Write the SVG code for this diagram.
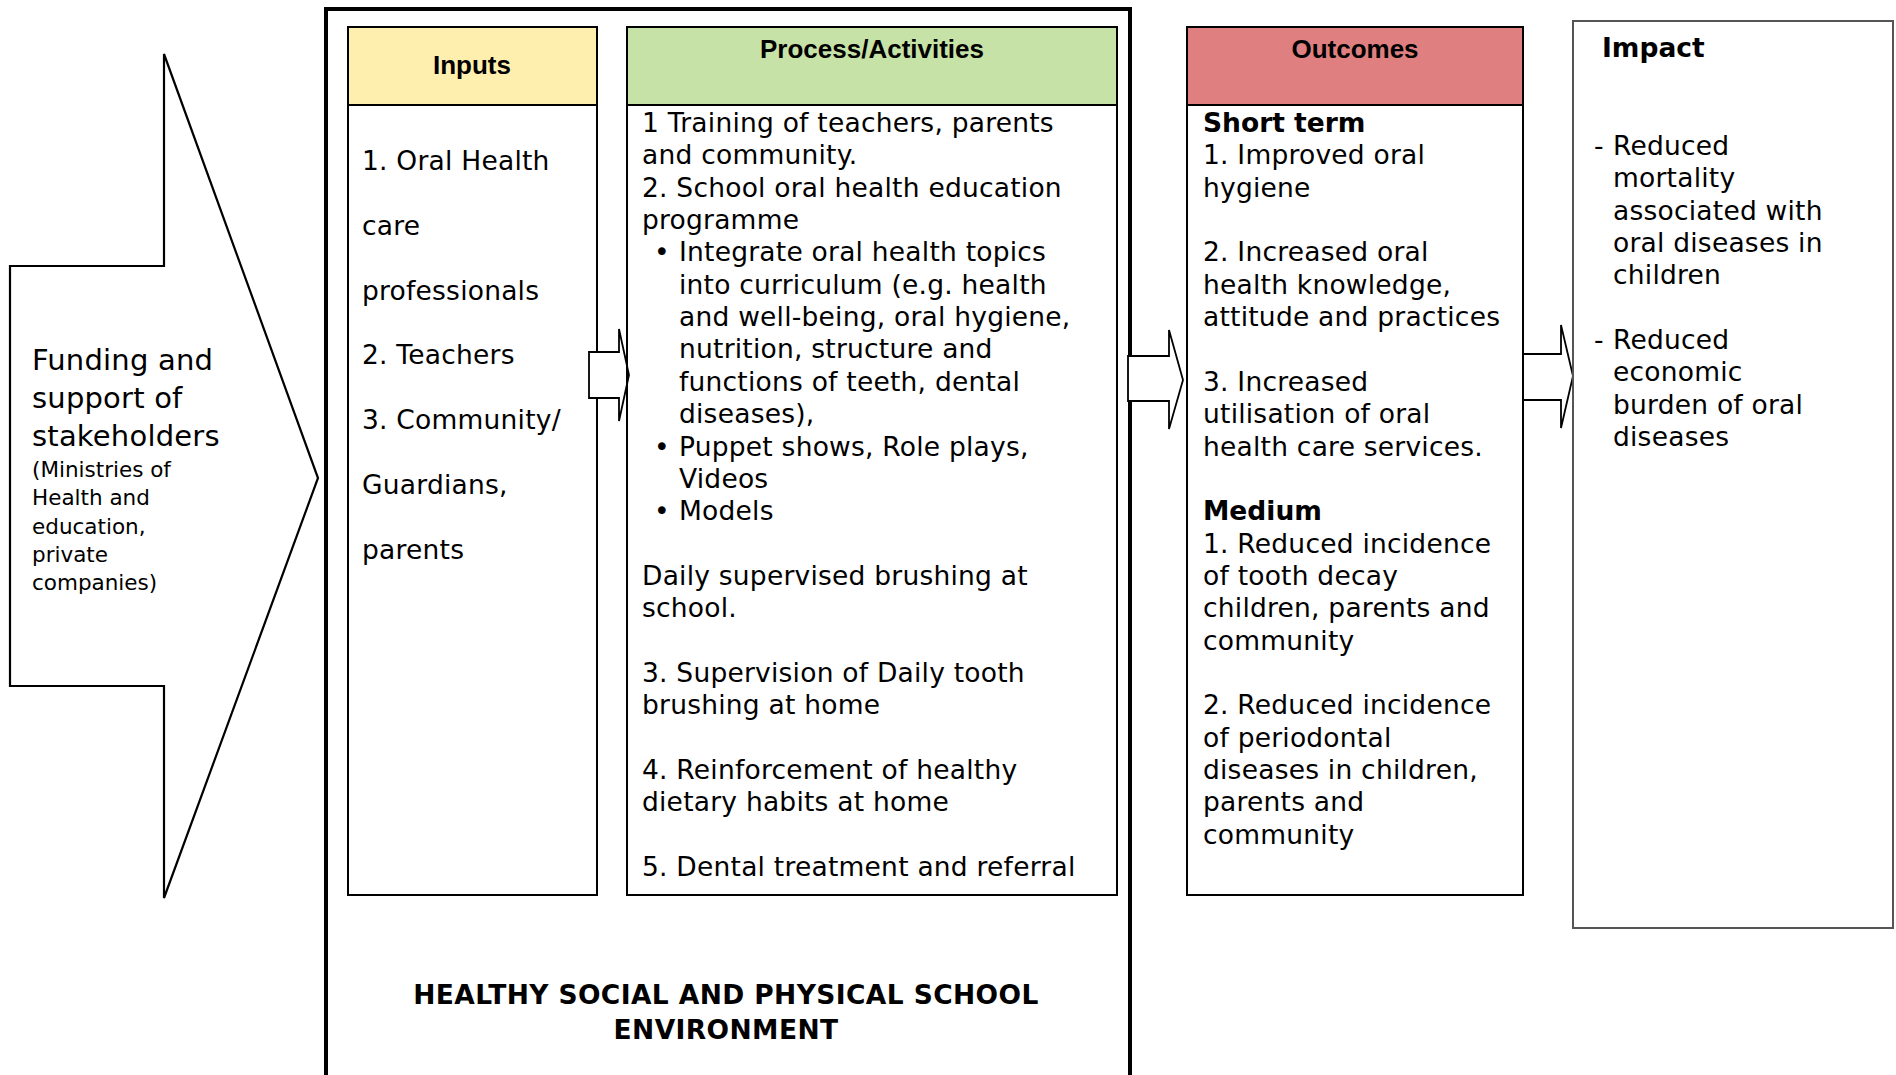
<svg xmlns="http://www.w3.org/2000/svg" width="1896" height="1075" viewBox="0 0 1896 1075">
<style>
.t{font-family:"DejaVu Sans",Verdana,sans-serif;font-size:26.5px;fill:#000;letter-spacing:0.22px}
.tb{font-family:"DejaVu Sans",Verdana,sans-serif;font-size:26.5px;font-weight:bold;fill:#000}
.h{font-family:"Liberation Sans",Arial,sans-serif;font-size:26px;font-weight:bold;fill:#000;text-anchor:middle}
.box{fill:#fff;stroke:#000;stroke-width:2}
.arr{fill:#fff;stroke:#000;stroke-width:1.8;stroke-linejoin:miter}
</style>
<rect width="1896" height="1075" fill="#fff"/>

<g id="funding">
<polygon points="10,266 164,266 164,54 318,478 164,898 164,686 10,686" fill="#fff" stroke="#000" stroke-width="2.2"/>
<text class="t" style="font-size:29px;letter-spacing:0.2px"><tspan x="32" y="370">Funding and</tspan><tspan x="32" y="408">support of</tspan><tspan x="32" y="446">stakeholders</tspan></text>
<text class="t" style="font-size:21.5px;letter-spacing:0"><tspan x="32" y="477">(Ministries of</tspan><tspan x="32" y="505">Health and</tspan><tspan x="32" y="534">education,</tspan><tspan x="32" y="562">private</tspan><tspan x="32" y="590">companies)</tspan></text>
</g>

<g id="environment">
<path d="M326,1080 V9 H1130 V1080" fill="none" stroke="#000" stroke-width="4"/>
<text class="tb" style="font-size:26.5px;letter-spacing:0.4px" text-anchor="middle"><tspan x="726" y="1004">HEALTHY SOCIAL AND PHYSICAL SCHOOL</tspan><tspan x="726" y="1039">ENVIRONMENT</tspan></text>
</g>

<g id="inputs">
<rect class="box" x="348" y="27" width="249" height="868"/>
<rect x="348" y="27" width="249" height="78" fill="#FFEFAF" stroke="#000" stroke-width="2"/>
<text class="h" x="472" y="74">Inputs</text>
<text class="t"><tspan x="362" y="170">1. Oral Health</tspan><tspan x="362" y="235">care</tspan><tspan x="362" y="300">professionals</tspan><tspan x="362" y="364">2. Teachers</tspan><tspan x="362" y="429">3. Community/</tspan><tspan x="362" y="494">Guardians,</tspan><tspan x="362" y="559">parents</tspan></text>
</g>

<g id="connectors">
<polygon class="arr" points="589,352 619,352 619,329 629,375 619,421 619,398 589,398"/>
<polygon class="arr" points="1128,356 1169,356 1169,330 1183,380 1169,429 1169,401 1128,401"/>
<polygon class="arr" points="1523,354 1561,354 1561,325 1573,376 1561,428 1561,400 1523,400"/>
</g>

<g id="process">
<rect x="627" y="27" width="490" height="78" fill="#C6E2A6" stroke="#000" stroke-width="2"/>
<path d="M627,105 V895 H1117 V105" fill="none" stroke="#000" stroke-width="2"/>
<text class="h" x="872" y="58">Process/Activities</text>
<text class="t">
<tspan x="642" y="132">1 Training of teachers, parents</tspan>
<tspan x="642" y="164.35">and community.</tspan>
<tspan x="642" y="196.7">2. School oral health education</tspan>
<tspan x="642" y="229.05">programme</tspan>
<tspan x="654" y="261.4">•</tspan><tspan x="679" y="261.4">Integrate oral health topics</tspan>
<tspan x="679" y="293.75">into curriculum (e.g. health</tspan>
<tspan x="679" y="326.1">and well-being, oral hygiene,</tspan>
<tspan x="679" y="358.45">nutrition, structure and</tspan>
<tspan x="679" y="390.8">functions of teeth, dental</tspan>
<tspan x="679" y="423.15">diseases),</tspan>
<tspan x="654" y="455.5">•</tspan><tspan x="679" y="455.5">Puppet shows, Role plays,</tspan>
<tspan x="679" y="487.85">Videos</tspan>
<tspan x="654" y="520.2">•</tspan><tspan x="679" y="520.2">Models</tspan>
<tspan x="642" y="584.9">Daily supervised brushing at</tspan>
<tspan x="642" y="617.25">school.</tspan>
<tspan x="642" y="681.95">3. Supervision of Daily tooth</tspan>
<tspan x="642" y="714.3">brushing at home</tspan>
<tspan x="642" y="779">4. Reinforcement of healthy</tspan>
<tspan x="642" y="811.35">dietary habits at home</tspan>
<tspan x="642" y="876">5. Dental treatment and referral</tspan>
</text>
</g>

<g id="outcomes">
<rect class="box" x="1187" y="27" width="336" height="868"/>
<rect x="1187" y="27" width="336" height="78" fill="#DF7F7F" stroke="#000" stroke-width="2"/>
<text class="h" x="1355" y="58">Outcomes</text>
<text class="tb" x="1203" y="132">Short term</text>
<text class="t">
<tspan x="1203" y="164.35">1. Improved oral</tspan>
<tspan x="1203" y="196.7">hygiene</tspan>
<tspan x="1203" y="261.4">2. Increased oral</tspan>
<tspan x="1203" y="293.75">health knowledge,</tspan>
<tspan x="1203" y="326.1">attitude and practices</tspan>
<tspan x="1203" y="390.8">3. Increased</tspan>
<tspan x="1203" y="423.15">utilisation of oral</tspan>
<tspan x="1203" y="455.5">health care services.</tspan>
</text>
<text class="tb" x="1203" y="520.2">Medium</text>
<text class="t">
<tspan x="1203" y="552.55">1. Reduced incidence</tspan>
<tspan x="1203" y="584.9">of tooth decay</tspan>
<tspan x="1203" y="617.25">children, parents and</tspan>
<tspan x="1203" y="649.6">community</tspan>
<tspan x="1203" y="714.3">2. Reduced incidence</tspan>
<tspan x="1203" y="746.65">of periodontal</tspan>
<tspan x="1203" y="779">diseases in children,</tspan>
<tspan x="1203" y="811.35">parents and</tspan>
<tspan x="1203" y="843.7">community</tspan>
</text>
</g>

<g id="impact">
<rect x="1573" y="21" width="320" height="907" fill="#fff" stroke="#555" stroke-width="2"/>
<text class="tb" x="1602" y="57">Impact</text>
<text class="t">
<tspan x="1594" y="155">-</tspan><tspan x="1613" y="155">Reduced</tspan>
<tspan x="1613" y="187.35">mortality</tspan>
<tspan x="1613" y="219.7">associated with</tspan>
<tspan x="1613" y="252.05">oral diseases in</tspan>
<tspan x="1613" y="284.4">children</tspan>
<tspan x="1594" y="349.1">-</tspan><tspan x="1613" y="349.1">Reduced</tspan>
<tspan x="1613" y="381.45">economic</tspan>
<tspan x="1613" y="413.8">burden of oral</tspan>
<tspan x="1613" y="446.15">diseases</tspan>
</text>
</g>
</svg>
